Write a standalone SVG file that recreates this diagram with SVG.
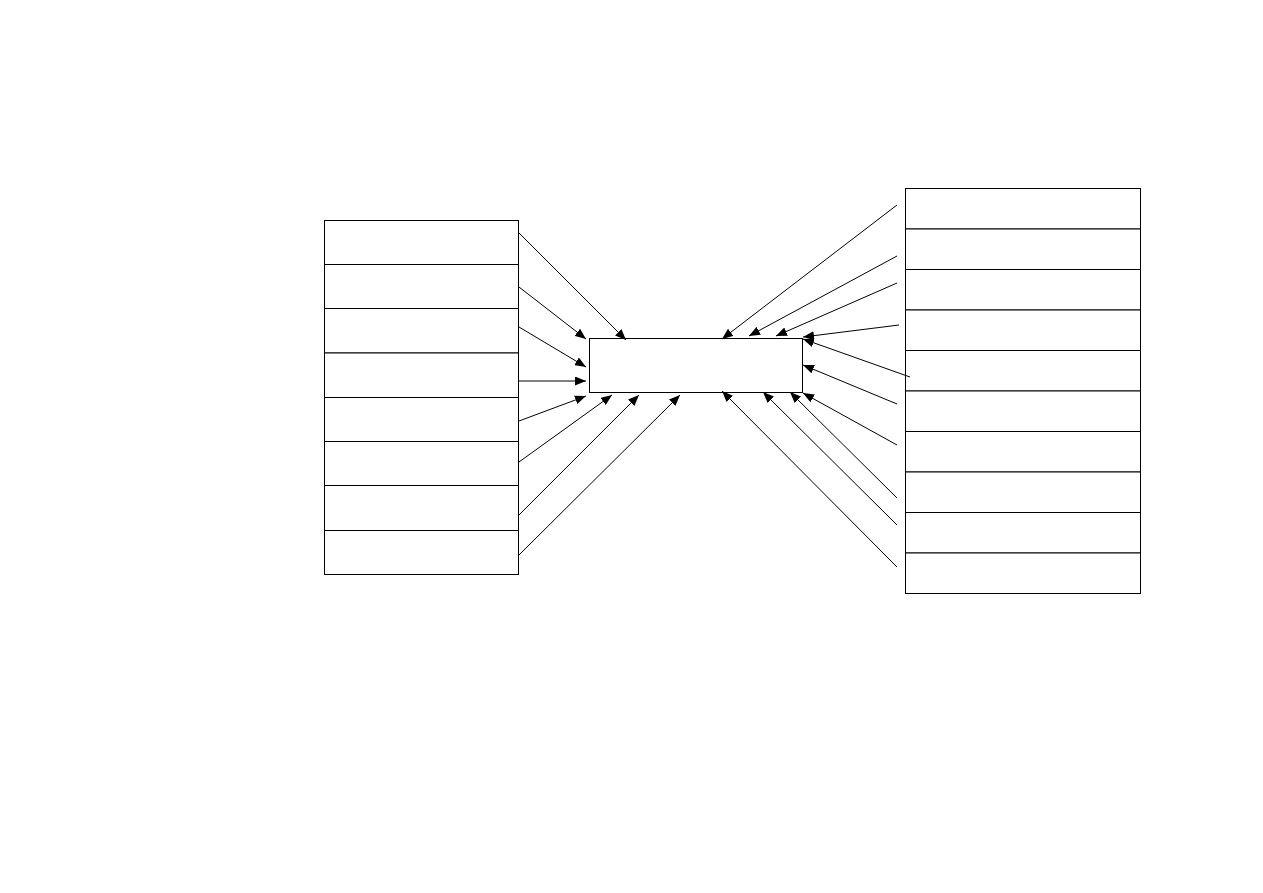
<svg xmlns="http://www.w3.org/2000/svg" width="1263" height="893" viewBox="0 0 1263 893">
<style>
.box{fill:#fff;stroke:#000;stroke-width:1}
.conn line{stroke:#000;stroke-width:1;fill:none}
</style>
<defs>
<marker id="ah" markerUnits="userSpaceOnUse" markerWidth="11" markerHeight="9" refX="11" refY="4.5" orient="auto">
<path d="M0,0 L11,4.5 L0,9 Z" fill="#000"/>
</marker>
</defs>
<rect width="1263" height="893" fill="#fff"/>
<g id="left-nodes">
<rect id="L1" class="box" x="324.5" y="220.5" width="194" height="44"/>
<rect id="L2" class="box" x="324.5" y="264.5" width="194" height="44"/>
<rect id="L3" class="box" x="324.5" y="308.5" width="194" height="44.5"/>
<rect id="L4" class="box" x="324.5" y="353" width="194" height="44.5"/>
<rect id="L5" class="box" x="324.5" y="397.5" width="194" height="44"/>
<rect id="L6" class="box" x="324.5" y="441.5" width="194" height="44"/>
<rect id="L7" class="box" x="324.5" y="485.5" width="194" height="45"/>
<rect id="L8" class="box" x="324.5" y="530.5" width="194" height="44"/>
</g>
<g id="center">
<rect id="C" class="box" x="589.5" y="338.5" width="213" height="54"/>
</g>
<g id="right-nodes">
<rect id="R1" class="box" x="905.5" y="188.5" width="235" height="40.5"/>
<rect id="R2" class="box" x="905.5" y="229" width="235" height="40.5"/>
<rect id="R3" class="box" x="905.5" y="269.5" width="235" height="40.5"/>
<rect id="R4" class="box" x="905.5" y="310" width="235" height="40.5"/>
<rect id="R5" class="box" x="905.5" y="350.5" width="235" height="40.5"/>
<rect id="R6" class="box" x="905.5" y="391" width="235" height="40.5"/>
<rect id="R7" class="box" x="905.5" y="431.5" width="235" height="40.5"/>
<rect id="R8" class="box" x="905.5" y="472" width="235" height="40.5"/>
<rect id="R9" class="box" x="905.5" y="512.5" width="235" height="40.5"/>
<rect id="R10" class="box" x="905.5" y="553" width="235" height="40.5"/>
</g>
<g id="connectors" class="conn">
<line x1="519" y1="233" x2="626" y2="340" marker-end="url(#ah)"/>
<line x1="519" y1="287" x2="586" y2="339" marker-end="url(#ah)"/>
<line x1="519" y1="327" x2="586" y2="367" marker-end="url(#ah)"/>
<line x1="519" y1="381" x2="586" y2="381" marker-end="url(#ah)"/>
<line x1="519" y1="421" x2="586" y2="396" marker-end="url(#ah)"/>
<line x1="519" y1="462" x2="612" y2="395" marker-end="url(#ah)"/>
<line x1="519" y1="515" x2="639" y2="395" marker-end="url(#ah)"/>
<line x1="519" y1="555" x2="680" y2="395" marker-end="url(#ah)"/>
<line x1="897" y1="205" x2="722" y2="339" marker-end="url(#ah)"/>
<line x1="897" y1="256" x2="749" y2="336" marker-end="url(#ah)"/>
<line x1="897" y1="283" x2="776" y2="336" marker-end="url(#ah)"/>
<line x1="899" y1="325" x2="803" y2="337" marker-end="url(#ah)"/>
<line x1="910" y1="377" x2="803" y2="339" marker-end="url(#ah)"/>
<line x1="897" y1="404" x2="803" y2="365" marker-end="url(#ah)"/>
<line x1="897" y1="445" x2="803" y2="393" marker-end="url(#ah)"/>
<line x1="897" y1="498" x2="790" y2="392" marker-end="url(#ah)"/>
<line x1="897" y1="525" x2="763" y2="392" marker-end="url(#ah)"/>
<line x1="897" y1="567" x2="722" y2="391" marker-end="url(#ah)"/>
</g>
</svg>
